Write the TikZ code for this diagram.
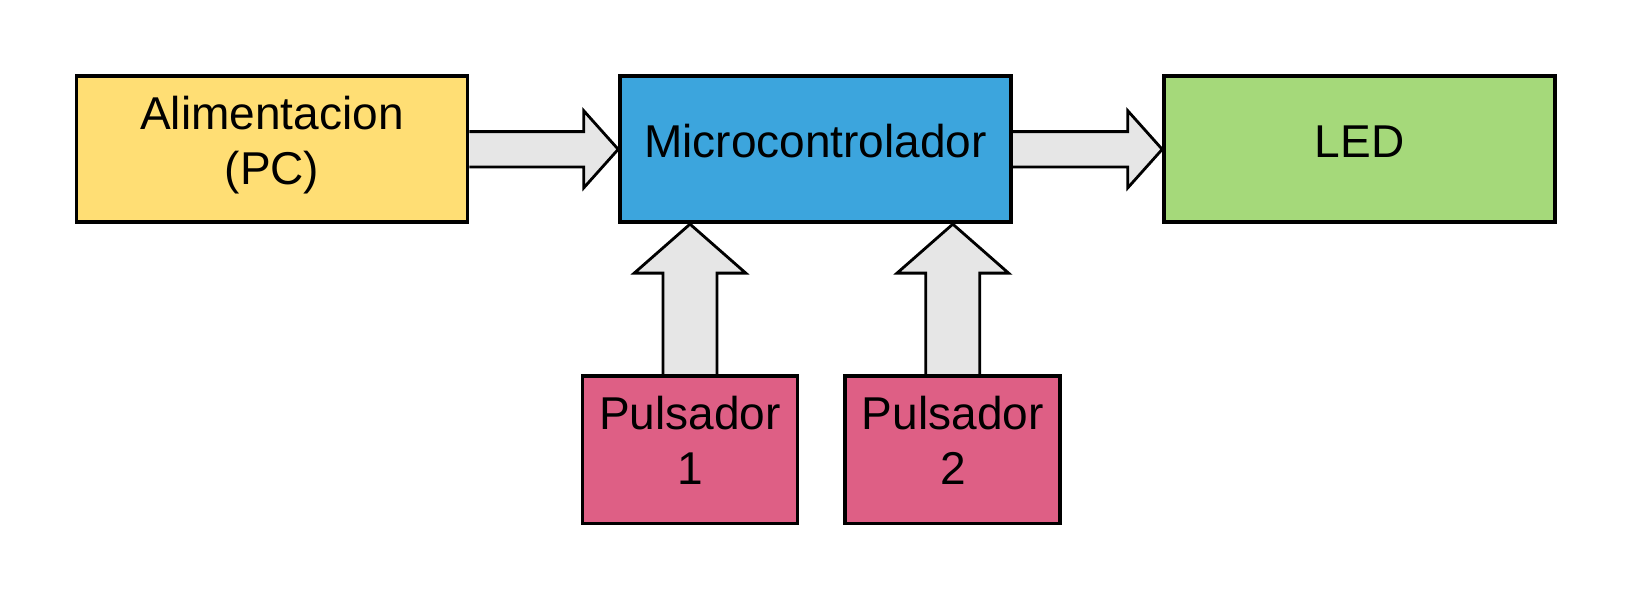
\documentclass[tikz,border=0pt]{standalone}
\usepackage{fontspec}
\setmainfont{Liberation Sans}
\usetikzlibrary{calc,backgrounds}
\definecolor{alimyellow}{HTML}{FFDE74}
\definecolor{microblue}{HTML}{3CA5DD}
\definecolor{ledgreen}{HTML}{A5D97A}
\definecolor{pulspink}{HTML}{DE5F85}
\definecolor{arrowgrey}{HTML}{E6E6E6}
\begin{document}
\begin{tikzpicture}[x=0.02cm,y=-0.02cm,
  box/.style={draw,line width=2.1pt,minimum width=7.82cm,minimum height=2.92cm},
  pulsbox/.style={box,minimum width=4.3cm,minimum height=2.95cm,fill=pulspink},
  txt/.style={align=center,font=\fontsize{26.2}{31.2}\selectfont,yshift=0.16cm},
  blockarrow/.style={draw,fill=arrowgrey,line width=1.6pt}]
  \useasboundingbox (0,0) rectangle (1631,600);
  % blocks
  \node[box,fill=alimyellow,label={[txt,yshift=-0.07cm]center:Alimentacion\\(PC)}] (alim) at (272,149.3) {};
  \node[box,fill=microblue,label={[txt]center:Microcontrolador}] (micro) at (815.5,149.3) {};
  \node[box,fill=ledgreen,label={[txt]center:LED}] (led) at (1359.5,149.3) {};
  \node[pulsbox,label={[txt,yshift=0.02cm]center:Pulsador\\1}] (p1) at (690,449.7) {};
  \node[pulsbox,label={[txt,yshift=0.02cm]center:Pulsador\\2}] (p2) at (952.8,449.7) {};
  \coordinate (t1) at (p1.north |- micro.south);
  \coordinate (t2) at (p2.north |- micro.south);
  % block arrows
  \begin{scope}[on background layer]
    \draw[blockarrow] ($(alim.east)+(0,-17.7)$) -- ($(micro.west)+(-34.4,-17.7)$) -- ++(0,-20.8)
      -- (micro.west) -- ++(-34.4,38.5) -- ++(0,-20.8) -- ($(alim.east)+(0,17.7)$);
    \draw[blockarrow] ($(micro.east)+(0,-17.7)$) -- ($(led.west)+(-34.4,-17.7)$) -- ++(0,-20.8)
      -- (led.west) -- ++(-34.4,38.5) -- ++(0,-20.8) -- ($(micro.east)+(0,17.7)$);
    \draw[blockarrow] ($(p1.north)+(-27,0)$) -- ($(t1)+(-27,49)$) -- ++(-28.8,0)
      -- (t1) -- ++(55.8,49) -- ++(-28.8,0) -- ($(p1.north)+(27,0)$);
    \draw[blockarrow] ($(p2.north)+(-27,0)$) -- ($(t2)+(-27,49)$) -- ++(-28.8,0)
      -- (t2) -- ++(55.8,49) -- ++(-28.8,0) -- ($(p2.north)+(27,0)$);
  \end{scope}
\end{tikzpicture}
\end{document}
